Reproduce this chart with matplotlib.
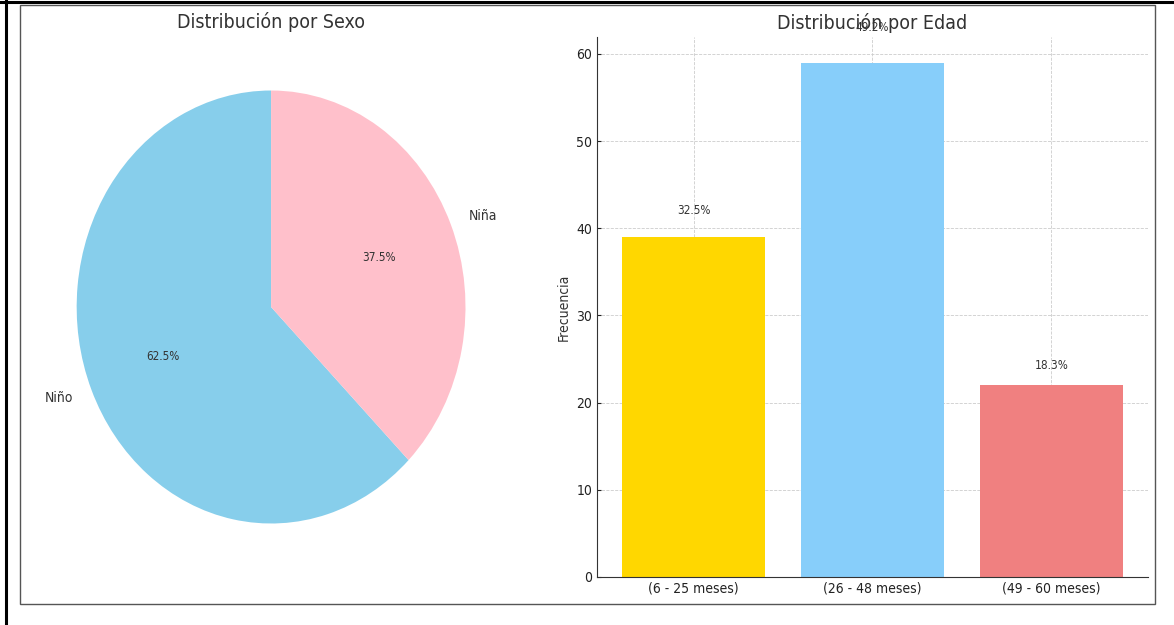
import matplotlib
matplotlib.use("Agg")
import matplotlib.pyplot as plt
from matplotlib.patches import Rectangle
from matplotlib.lines import Line2D

# datos
sexo = ["Niño", "Niña"]
sexo_n = [75, 45]
sexo_colores = ["skyblue", "pink"]

edades = ["(6 - 25 meses)", "(26 - 48 meses)", "(49 - 60 meses)"]
edades_n = [39, 59, 22]
edades_colores = ["gold", "lightskyblue", "lightcoral"]

plt.rcParams["font.family"] = "DejaVu Sans"
plt.rcParams["font.stretch"] = "condensed"
plt.rcParams["text.color"] = "#333333"
plt.rcParams["axes.labelcolor"] = "#333333"
plt.rcParams["xtick.color"] = "#222222"
plt.rcParams["ytick.color"] = "#222222"

fig = plt.figure(figsize=(11.74, 6.25), dpi=100)

# marco
fig.add_artist(Rectangle((0.0170, 0.0336), 0.9668, 0.9584, transform=fig.transFigure,
                         fill=False, edgecolor="#555555", linewidth=1))
fig.add_artist(Line2D([0, 1], [0.9968, 0.9968], transform=fig.transFigure,
                      color="black", linewidth=2.2))
fig.add_artist(Line2D([0.0051, 0.0051], [0, 1], transform=fig.transFigure,
                      color="black", linewidth=2.2))

# pastel por sexo
ax1 = fig.add_axes([0.0239, 0.0758, 0.414, 0.866])
ax1.pie(sexo_n, labels=sexo, colors=sexo_colores, autopct="%1.1f%%",
        startangle=90, textprops={"fontsize": 10})
for t in ax1.texts:
    if "%" in t.get_text():
        t.set_fontsize(8.5)
ax1.set_aspect("auto")
ax1.set_xlim(-1.25, 1.25)
ax1.set_ylim(-1.25, 1.25)
ax1.set_title("Distribución por Sexo", fontsize=14)

# barras por edad
ax2 = fig.add_axes([0.5085, 0.0768, 0.4693, 0.864])
total = sum(edades_n)
barras = ax2.bar(edades, edades_n, color=edades_colores, width=0.8, zorder=2)
for b, n in zip(barras, edades_n):
    ax2.text(b.get_x() + b.get_width() / 2, n * 1.05 + 0.4, f"{n / total * 100:.1f}%",
             ha="center", va="bottom", fontsize=8.5, zorder=3)
ax2.set_title("Distribución por Edad", fontsize=14)
ax2.set_ylabel("Frecuencia", fontsize=10)
ax2.grid(True, linestyle="--", color="#cccccc", linewidth=0.6, zorder=0)
ax2.set_axisbelow(True)
ax2.spines["top"].set_visible(False)
ax2.spines["right"].set_visible(False)
ax2.spines["left"].set_color("#333333")
ax2.spines["bottom"].set_color("#333333")
ax2.tick_params(direction="in", labelsize=10, length=3)

fig.savefig("out.png", dpi=100)
